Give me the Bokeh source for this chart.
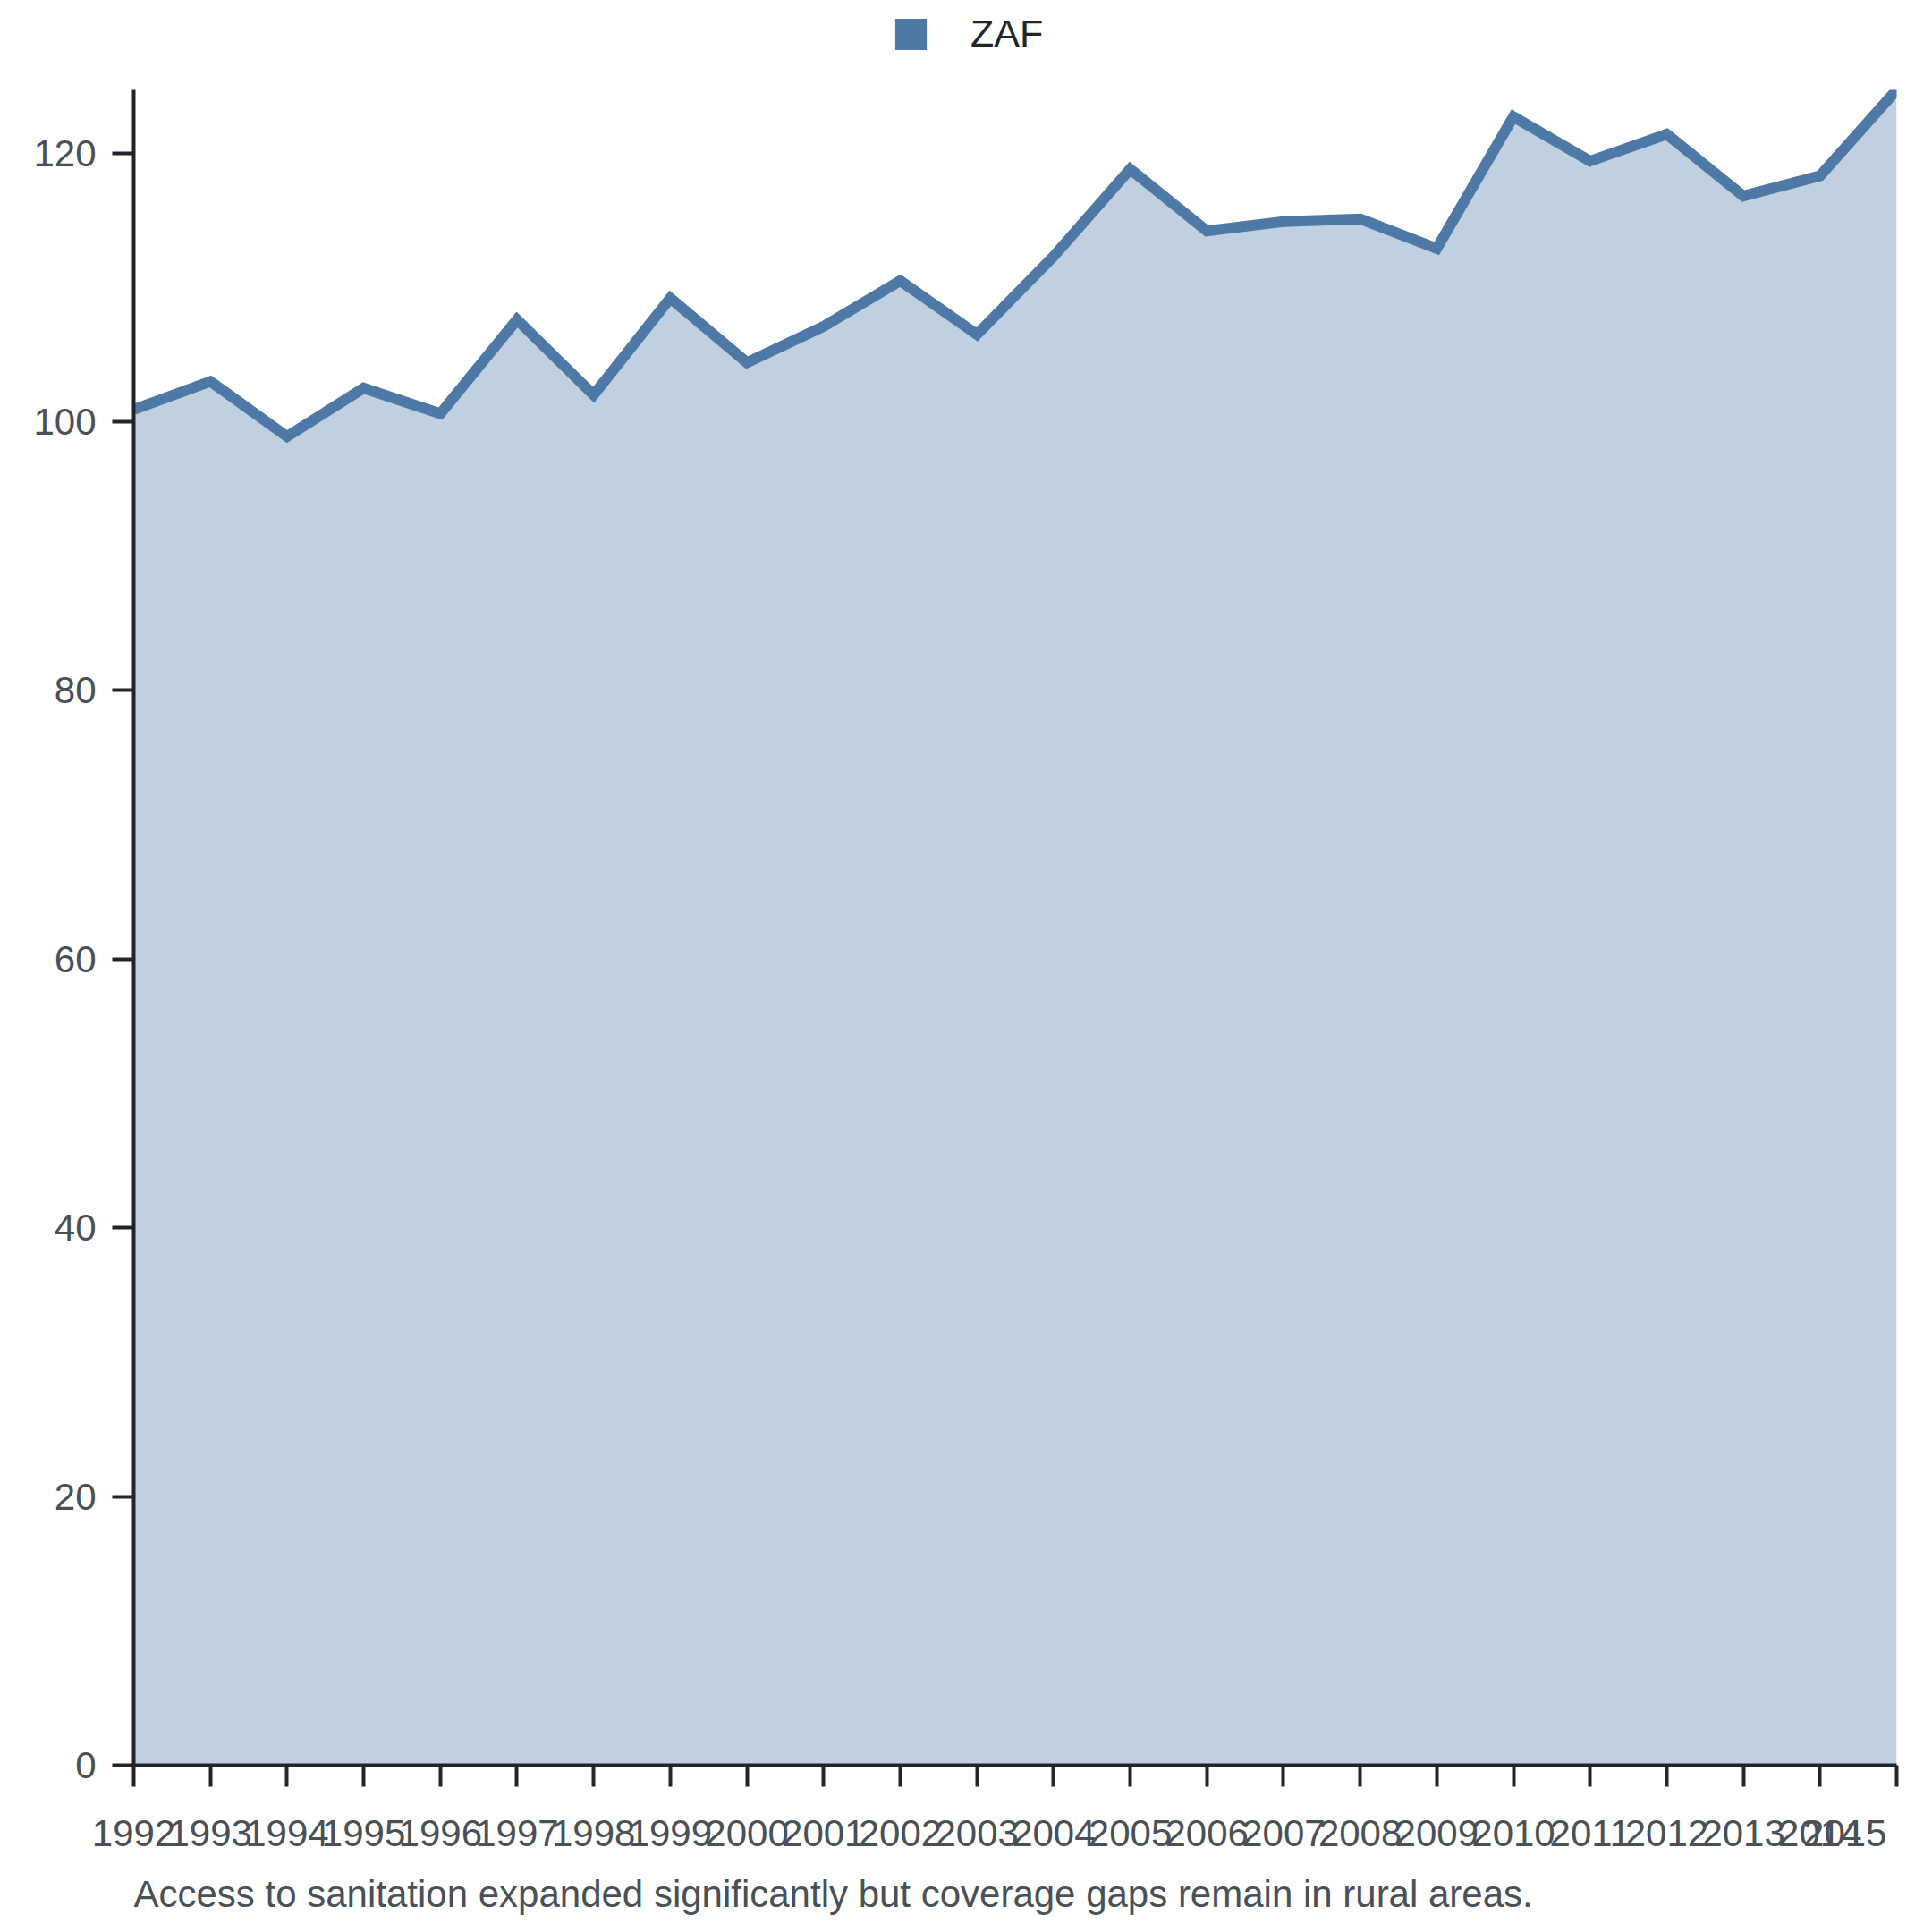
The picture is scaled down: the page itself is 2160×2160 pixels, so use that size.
from bokeh.plotting import figure
from bokeh.layouts import column
from bokeh.models import Range1d, FixedTicker, Legend, LegendItem, Title, ColumnDataSource
from bokeh.embed import file_html
from bokeh.resources import INLINE

years = list(range(1992, 2016))
values = [100.9, 103.0, 98.9, 102.5, 100.6, 107.6, 102.0, 109.2, 104.4, 107.1,
          110.5, 106.5, 112.3, 118.8, 114.2, 114.9, 115.1, 112.9, 122.7, 119.4,
          121.4, 116.8, 118.3, 124.7]
y_ticks = [0, 20, 40, 60, 80, 100, 120]
series_name = "ZAF"
caption = "Access to sanitation expanded significantly but coverage gaps remain in rural areas."

LINE = "#4e79a7"
FILL = "#c0d0e1"
AXIS = "#212529"
LABEL = "#495057"
FONT = "Liberation Sans"

W = 2144
TOP = 100

src = ColumnDataSource(dict(x=years, y=values, base=[0] * len(years)))

# ---- legend strip -------------------------------------------------------
# the swatch renderer uses the series data but lies outside this strip's view
lg = figure(width=W, height=TOP, output_backend="svg", toolbar_location=None,
            x_range=Range1d(0, 1), y_range=Range1d(0, 1),
            x_axis_type=None, y_axis_type=None, min_border=0)
lg.outline_line_color = None
lg.xgrid.visible = False
lg.ygrid.visible = False
sw = lg.varea(x="x", y1="base", y2="y", source=src, fill_color=LINE, fill_alpha=1.0)
legend = Legend(items=[LegendItem(label=series_name, renderers=[sw])],
                location=(847, 38), orientation="horizontal",
                glyph_width=44, glyph_height=44, label_height=44,
                label_standoff=45, padding=0, margin=0, spacing=0,
                border_line_color=None, background_fill_alpha=0,
                label_text_font=FONT, label_text_font_size="43px",
                label_text_color=AXIS)
lg.add_layout(legend, "center")

# ---- main chart ---------------------------------------------------------
p = figure(width=W, height=2056, output_backend="svg", toolbar_location=None,
           x_range=Range1d(years[0], years[-1]), y_range=Range1d(0, max(values)),
           min_border_left=149, min_border_right=24, min_border_top=0, min_border_bottom=181)
p.outline_line_color = None
p.xgrid.visible = False
p.ygrid.visible = False

p.varea(x="x", y1="base", y2="y", source=src, fill_color=FILL, fill_alpha=1.0)
p.line(x="x", y="y", source=src, line_color=LINE, line_width=12, line_join="miter")

for ax in (p.xaxis[0], p.yaxis[0]):
    ax.axis_line_color = AXIS
    ax.axis_line_width = 4
    ax.major_tick_line_color = AXIS
    ax.major_tick_line_width = 4
    ax.major_tick_out = 24
    ax.major_tick_in = 0
    ax.minor_tick_line_color = None
    ax.major_label_text_font = FONT
    ax.major_label_text_font_size = "42px"
    ax.major_label_text_color = LABEL

p.xaxis[0].ticker = FixedTicker(ticks=years)
p.xaxis[0].major_label_standoff = 28
# last label sits flush with the end of the axis, as in the reference
p.xaxis[0].major_label_overrides = {years[-1]: str(years[-1]) + "\u00a0" * 3}
p.yaxis[0].ticker = FixedTicker(ticks=y_ticks)
p.yaxis[0].major_label_standoff = 18

t = Title(text=caption, align="left", text_font=FONT, text_font_size="42px",
          text_color=LABEL, text_font_style="normal", standoff=32)
p.add_layout(t, "below")

layout = column(lg, p, spacing=0)
open("out.html", "w").write(file_html(layout, INLINE))
